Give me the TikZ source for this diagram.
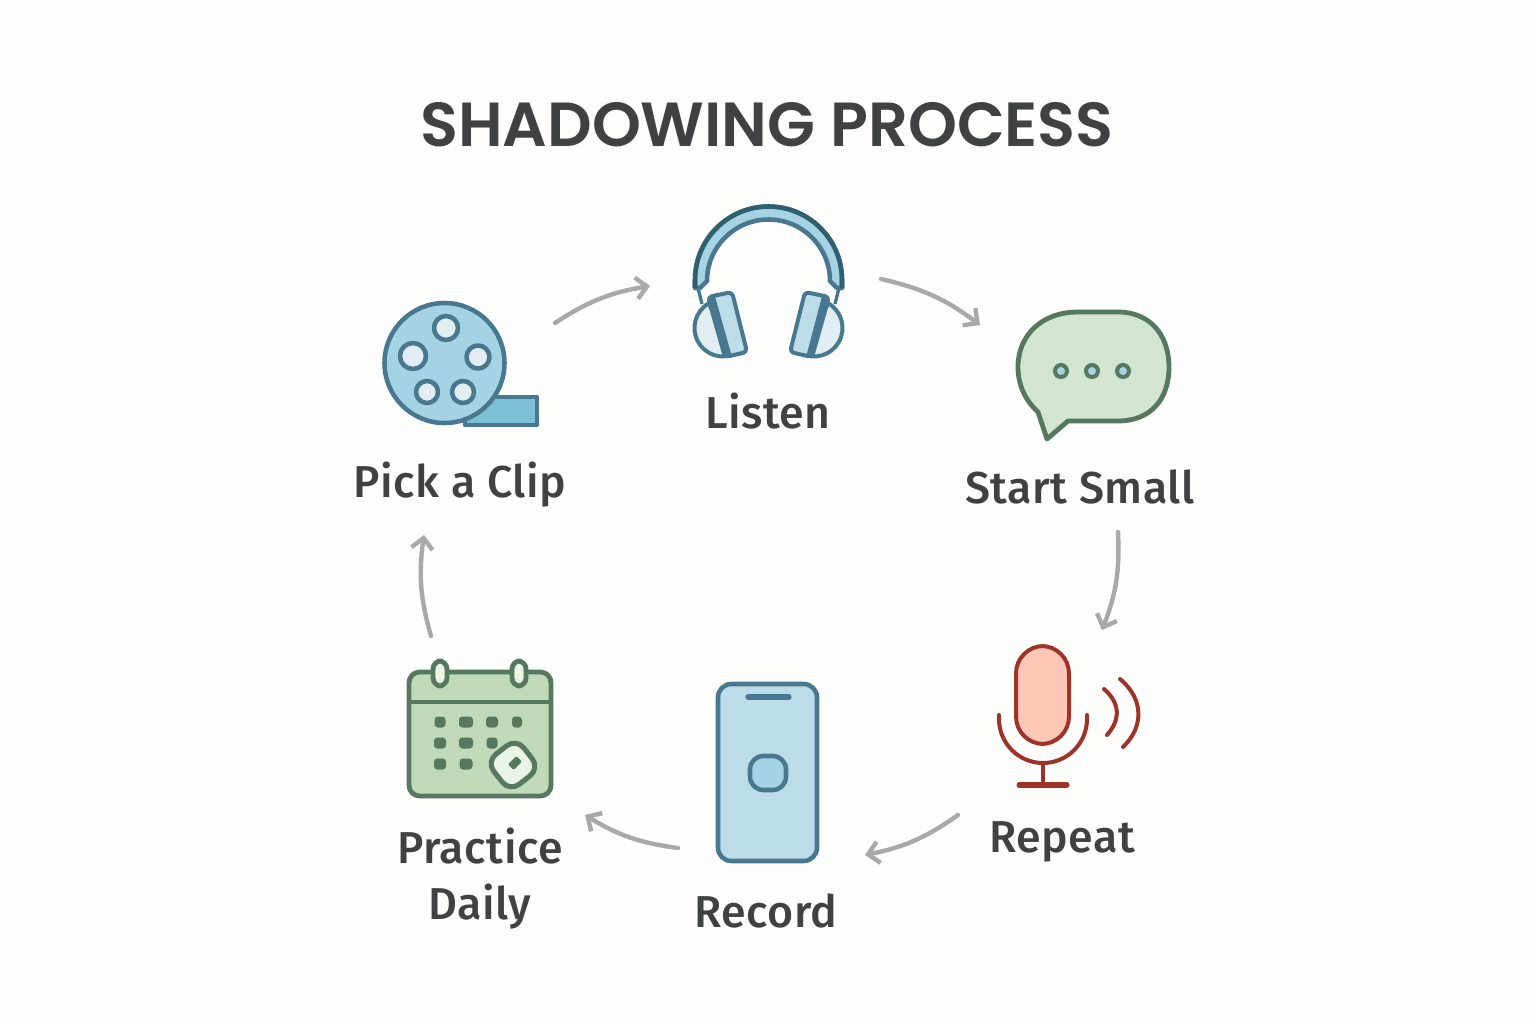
\documentclass[tikz,border=0pt]{standalone}
\usepackage{fontspec}
\setmainfont{Poppins}
\newfontfamily\labelfont[LetterSpace=1.2]{Fira Sans Medium}
\newfontfamily\titlefont{Poppins SemiBold}
\usepackage{xcolor}
\usetikzlibrary{arrows.meta,calc,positioning}
\definecolor{paper}{HTML}{FDFDFB}
\definecolor{ink}{HTML}{404242}
\definecolor{shaft}{HTML}{A9A9A7}
\definecolor{blueline}{HTML}{47788F}
\definecolor{bluedark}{HTML}{2F5F70}
\definecolor{bluefill}{HTML}{A6D3E3}
\definecolor{bluepale}{HTML}{BCDCE7}
\definecolor{bluetape}{HTML}{7DBFD4}
\definecolor{bluehole}{HTML}{E1EDF0}
\definecolor{greenline}{HTML}{55785F}
\definecolor{greenfill}{HTML}{BFD9B9}
\definecolor{greenpale}{HTML}{D3E4D3}
\definecolor{greenhole}{HTML}{E9F3E6}
\definecolor{redline}{HTML}{9E3329}
\definecolor{redfill}{HTML}{FFC7B8}
\tikzset{
  blueicon/.style={draw=blueline,line width=3.4pt,line join=round},
  greenicon/.style={draw=greenline,line width=3.6pt,line join=round},
  redicon/.style={draw=redline,line width=3pt,line cap=round},
  dotcell/.style={fill=greenline,rounded corners=2.5pt},
  steplabel/.style={font=\labelfont\fontsize{33.5}{42}\selectfont,text=ink,inner sep=0pt,align=center,anchor=base},
  every node/.style={inner sep=0pt}
}
\tikzstyle{arrow} = [draw=shaft,line width=3.3pt,line cap=round,-{Straight Barb[length=8pt,width=16pt,line width=3.3pt]}]

\begin{document}
\begin{tikzpicture}[x=0.75pt,y=-0.75pt]
  \useasboundingbox[fill=paper] (0,0) rectangle (1536,1024);
  \node[font=\titlefont\fontsize{46.7}{54}\selectfont,text=ink] (title) at (767,125) {SHADOWING PROCESS};
  % Film reel
  \begin{scope}
    \filldraw[blueicon,fill=bluetape] (465,397) rectangle (537,425);
    \filldraw[blueicon,fill=bluefill] (444.5,363) circle (60);
    \filldraw[blueicon,fill=bluehole] (446,328) circle (12);
    \filldraw[blueicon,fill=bluehole] (413,356) circle (13);
    \filldraw[blueicon,fill=bluehole] (478,357) circle (11.5);
    \filldraw[blueicon,fill=bluehole] (427,392) circle (11);
    \filldraw[blueicon,fill=bluehole] (463,392) circle (11);
  \end{scope}
  \node[steplabel] (clip) at (460,497) {Pick a Clip};
  % Headphones
  \begin{scope}
    \draw[blueicon,line width=2.5pt] (698,288) -- (702,304);
    \draw[blueicon,line width=2.5pt] (839,288) -- (835,304);
    \filldraw[blueicon,fill=bluefill] (707,281) arc[start angle=180,end angle=360,radius=61.5]
      -- (837,288) -- (842,288) -- (842,280) arc[start angle=0,end angle=-180,radius=73.5]
      -- (695,288) -- (700,288) -- cycle;
    \draw[draw=bluedark,line width=3.4pt] (695,288) -- (695,280) arc[start angle=180,end angle=360,radius=73.5] -- (842,288);
    \filldraw[blueicon,line width=3pt,fill=bluehole] (708.75,303.3) arc[start angle=240,end angle=66,radius=28.5] -- cycle;
    \filldraw[blueicon,line width=3pt,fill=bluehole] (828.25,303.3) arc[start angle=-60,end angle=114,radius=28.5] -- cycle;
    \filldraw[blueicon,line width=3pt,fill=bluepale,rounded corners=3pt] (708,297) -- (732,292) -- (747,352) -- (725,357) -- cycle;
    \filldraw[blueicon,line width=3pt,fill=bluepale,rounded corners=3pt] (829,297) -- (805,292) -- (790,352) -- (812,357) -- cycle;
    \draw[draw=blueline,line width=5pt] (712,298) -- (728,355);
    \draw[draw=blueline,line width=5pt] (825,298) -- (810,355);
  \end{scope}
  \node[steplabel] (listen) at (768,428) {Listen};
  % Speech bubble
  \begin{scope}
    \filldraw[greenicon,fill=greenpale] (1078,312) -- (1118,312)
      .. controls (1150,312) and (1169,335) .. (1169,367)
      .. controls (1169,400) and (1150,421) .. (1118,421)
      -- (1068,421) -- (1047,439) -- (1038,412)
      .. controls (1025,400) and (1018,385) .. (1018,367)
      .. controls (1018,335) and (1042,312) .. (1078,312) -- cycle;
    \foreach \dotx in {1061,1092,1123}
      \filldraw[draw=greenline,line width=3pt,fill=bluefill] (\dotx,371) circle (6);
  \end{scope}
  \node[steplabel] (small) at (1080,503) {Start Small};
  % Microphone
  \begin{scope}
    \filldraw[redicon,fill=redfill,rounded corners=27.5*0.75pt] (1016,646) rectangle (1069,744);
    \draw[redicon] (999,715) -- (999,719) arc[start angle=180,end angle=0,radius=44] -- (1087,715);
    \draw[redicon] (1043,763) -- (1043,785);
    \draw[redicon,line width=3.8pt] (1019,785) -- (1067,785);
    \draw[redicon] (1104,689) .. controls (1120,703) and (1121,719) .. (1107,735);
    \draw[redicon] (1120,679) .. controls (1144,699) and (1144,727) .. (1123,747);
  \end{scope}
  \node[steplabel] (repeat) at (1062,852) {Repeat};
  % Phone
  \begin{scope}
    \filldraw[blueicon,fill=bluepale,rounded corners=10pt] (718,684) rectangle (817,861);
    \draw[draw=blueline,line width=4pt,line cap=round] (748,697) -- (789,697);
    \filldraw[blueicon,fill=bluefill,rounded corners=10pt] (750,756) rectangle (786,790);
  \end{scope}
  \node[steplabel] (record) at (766,927) {Record};
  % Calendar
  \begin{scope}
    \filldraw[greenicon,fill=greenfill,rounded corners=8pt] (409,672) rectangle (551,796);
    \draw[greenicon] (409,702) -- (551,702);
    \foreach \ringx in {440,519}
      \filldraw[greenicon,fill=greenhole,rounded corners=6pt] (\ringx-7,661) rectangle (\ringx+7,686);
    \foreach \cellx/\celly/\cellw in {440/722/5.5,466/722/7,492/722/6,517/722/5,440/743/6,466/743/7,492/743/5.5,440/764/6,466/764/6.5}
      \fill[dotcell] (\cellx-\cellw,\celly-5.5) rectangle (\cellx+\cellw,\celly+5.5);
    \filldraw[greenicon,line width=3.8pt,fill=greenhole,rotate around={38:(513,765)},rounded corners=9pt] (494,746) rectangle (532,784);
    \fill[dotcell,rotate around={45:(515,763)},rounded corners=1.5pt] (509,759) rectangle (521,767);
  \end{scope}
  \node[steplabel,anchor=center] (daily) at (480,879) {Practice\\Daily};
  % Arrows round the cycle
  \coordinate (clipout) at (555,323);
  \coordinate (listenin) at (650,286);
  \coordinate (listenout) at (881,279);
  \coordinate (smallin) at (980,325);
  \coordinate (smallout) at (1118,532);
  \coordinate (repeatin) at (1102,630);
  \coordinate (repeatout) at (958,815);
  \coordinate (recordin) at (865,855);
  \coordinate (recordout) at (678,848);
  \coordinate (dailyin) at (585,815);
  \coordinate (dailyout) at (431,636);
  \coordinate (clipin) at (424,535);
  \draw[arrow] (clipout) to[bend left=12] (listenin);
  \draw[arrow] (listenout) to[bend left=12] (smallin);
  \draw[arrow] (smallout) to[bend left=12] (repeatin);
  \draw[arrow] (repeatout) to[bend left=12] (recordin);
  \draw[arrow] (recordout) to[bend left=12] (dailyin);
  \draw[arrow] (dailyout) to[bend left=12] (clipin);
\end{tikzpicture}
\end{document}
